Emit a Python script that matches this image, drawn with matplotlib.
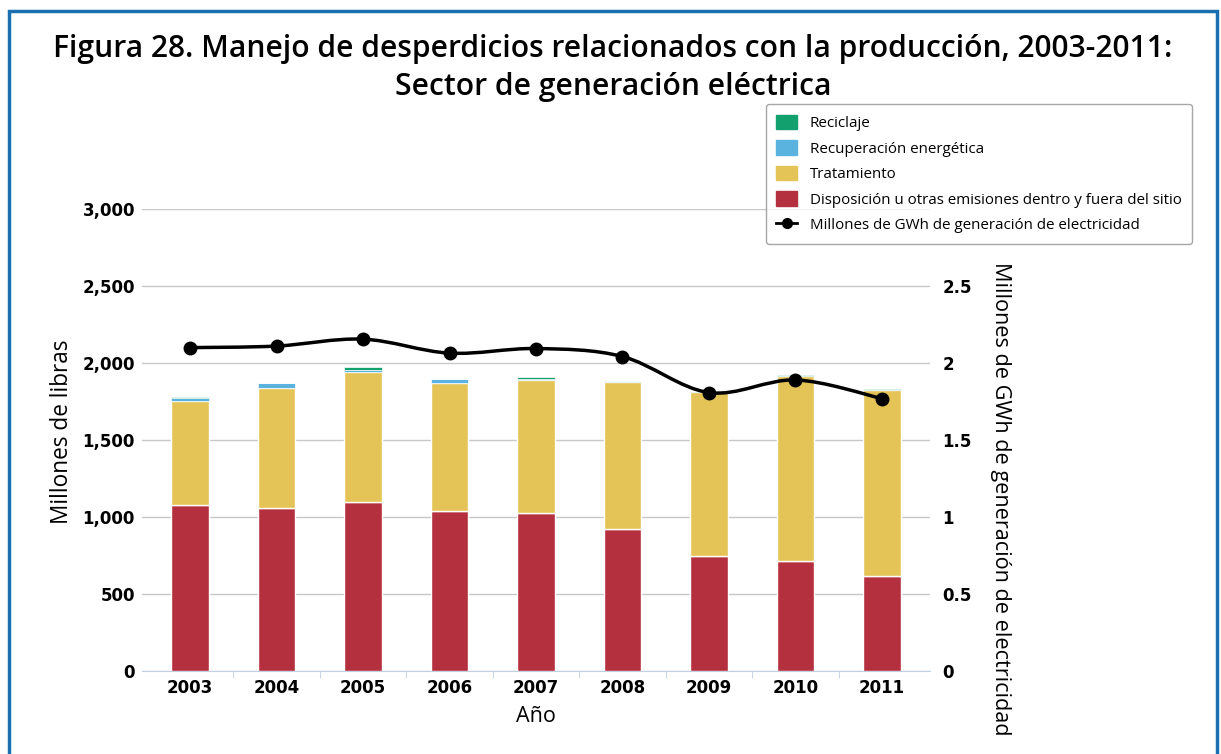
import matplotlib.pyplot as plt
from matplotlib.path import Path
from matplotlib.patches import PathPatch, Rectangle
from matplotlib.lines import Line2D
from matplotlib.patches import Patch
import numpy as np

years = ['2003', '2004', '2005', '2006', '2007', '2008', '2009', '2010', '2011']
disposicion = [1081, 1059, 1098, 1042, 1024, 922, 749, 712, 618]
tratamiento = [672, 779, 844, 828, 866, 957, 1065, 1204, 1207]
recuperacion = [22, 30, 14, 25, 5, 3, 2, 2, 2]
reciclaje = [3, 3, 16, 3, 12, 2, 2, 2, 2]
gwh = [2.10, 2.11, 2.155, 2.064, 2.094, 2.042, 1.808, 1.89, 1.769]

c_red = '#b5303f'
c_yellow = '#e5c457'
c_blue = '#5ab2df'
c_green = '#12a06f'

plt.rcParams['font.family'] = ['Open Sans', 'DejaVu Sans']

fig = plt.figure(figsize=(12.21, 7.54), dpi=100)
ax = fig.add_axes([142 / 1221, 0.1101, (930 - 142) / 1221, 0.6127])
ax2 = ax.twinx()

x = np.arange(len(years))
w = 0.43
b1 = np.array(disposicion)
b2 = b1 + np.array(tratamiento)
b3 = b2 + np.array(recuperacion)
ax.bar(x, disposicion, w, color=c_red, edgecolor='white', linewidth=1, zorder=3)
ax.bar(x, tratamiento, w, bottom=b1, color=c_yellow, edgecolor='white', linewidth=1, zorder=3)
ax.bar(x, recuperacion, w, bottom=b2, color=c_blue, edgecolor='white', linewidth=0.5, zorder=3)
ax.bar(x, reciclaje, w, bottom=b3, color=c_green, edgecolor='white', linewidth=0.5, zorder=3)

ax.set_xlim(-0.555, 8.555)
ax.set_ylim(0, 3000)
ax.set_yticks([0, 500, 1000, 1500, 2000, 2500, 3000])
ax.set_yticklabels(['0', '500', '1,000', '1,500', '2,000', '2,500', '3,000'])
ax.grid(axis='y', color='#c8c8c8', linewidth=1, zorder=0)
ax.set_axisbelow(True)
ax.set_xticks(x)
ax.set_xticklabels(years)
ax.set_xticks(x[:-1] + 0.5, minor=True)
ax.tick_params(axis='x', which='major', length=0, pad=6)
ax.tick_params(axis='x', which='minor', length=5, color='#c0d0e0')
ax.tick_params(axis='y', length=0, pad=5)
for s in ['top', 'right', 'left']:
    ax.spines[s].set_visible(False)
ax.spines['bottom'].set_color('#c0d0e0')
for lab in ax.get_xticklabels() + ax.get_yticklabels():
    lab.set_fontweight('bold')
    lab.set_fontsize(12)
    lab.set_family(['DejaVu Sans'])
ax.set_xlabel('Año', fontsize=15.5, labelpad=6)
fig.text(62 / 1221, 1 - 432 / 754, 'Millones de libras', rotation=90,
         ha='center', va='center', fontsize=16.3)

# smooth line through the points (bezier segments)
pts = np.column_stack([x, gwh])
verts = [tuple(pts[0])]
codes = [Path.MOVETO]
for i in range(len(pts) - 1):
    p0 = pts[i - 1] if i > 0 else pts[i]
    p1 = pts[i]
    p2 = pts[i + 1]
    p3 = pts[i + 2] if i + 2 < len(pts) else pts[i + 1]
    c1 = p1 + (p2 - p0) / 6
    c2 = p2 - (p3 - p1) / 6
    verts += [tuple(c1), tuple(c2), tuple(p2)]
    codes += [Path.CURVE4] * 3
ax2.add_patch(PathPatch(Path(verts, codes), facecolor='none', edgecolor='black', lw=2.5, zorder=4))
ax2.plot(x, gwh, 'o', color='black', markersize=9, zorder=5)
ax2.set_ylim(0, 3)
ax2.set_yticks([0, 0.5, 1, 1.5, 2, 2.5])
ax2.set_yticklabels(['0', '0.5', '1', '1.5', '2', '2.5'])
ax2.tick_params(axis='y', length=0, pad=9)
for s in ['top', 'right', 'left', 'bottom']:
    ax2.spines[s].set_visible(False)
for lab in ax2.get_yticklabels():
    lab.set_fontweight('bold')
    lab.set_fontsize(12)
    lab.set_family(['DejaVu Sans'])
fig.text(1000 / 1221, 1 - 499 / 754, 'Millones de GWh de generación de electricidad',
         rotation=270, ha='center', va='center', fontsize=15.6)

fig.text(0.502, 0.935, 'Figura 28. Manejo de desperdicios relacionados con la producción, 2003-2011:',
         ha='center', va='center', fontsize=21.6, fontweight='semibold')
fig.text(0.502, 0.885, 'Sector de generación eléctrica',
         ha='center', va='center', fontsize=21.6, fontweight='semibold')

handles = [Patch(color=c_green), Patch(color=c_blue), Patch(color=c_yellow), Patch(color=c_red),
           Line2D([0], [0], color='black', marker='o', lw=2, markersize=7)]
labels = ['Reciclaje', 'Recuperación energética', 'Tratamiento',
          'Disposición u otras emisiones dentro y fuera del sitio',
          'Millones de GWh de generación de electricidad']
fig.legend(handles, labels, loc='upper right', bbox_to_anchor=(1192 / 1221, 1 - 104 / 754),
           fontsize=10.9, frameon=True, edgecolor='#909090', fancybox=True,
           handlelength=1.4, handleheight=1.1, labelspacing=0.6, borderpad=0.7,
           borderaxespad=0)

fig.patches.append(Rectangle((0.007, -0.05), 0.99, 1.036, transform=fig.transFigure,
                             fill=False, edgecolor='#1a6fb0', linewidth=2.5))

fig.savefig('out.png', dpi=100)
